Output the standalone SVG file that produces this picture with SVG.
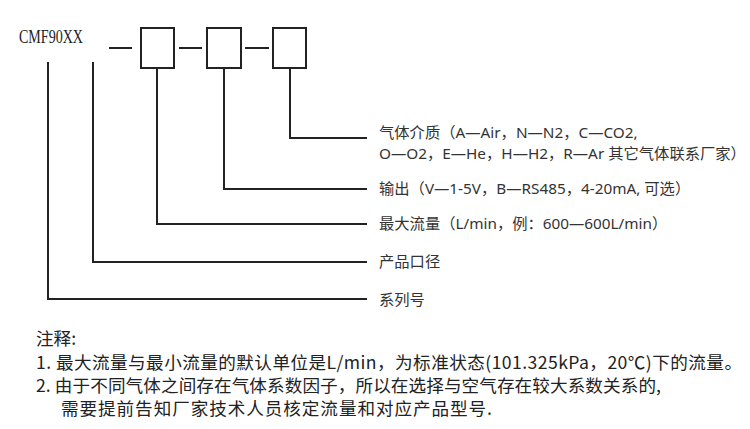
<svg xmlns="http://www.w3.org/2000/svg" width="750" height="429" viewBox="0 0 750 429">
<style>
.ln{fill:none;stroke:#222;stroke-width:2}
.bx{fill:#fff;stroke:#222;stroke-width:2}
.lb{font-family:"Noto Sans","Noto Sans CJK SC",sans-serif;font-size:15.3px;fill:#333}
.nt{font-family:"Noto Sans CJK SC",sans-serif;font-size:17.6px;fill:#222}
.md{font-family:"Liberation Serif",serif;font-size:18px;fill:#222}
</style>
<rect width="750" height="429" fill="#fff"/>
<g id="model"><text class="md" x="19" y="43" textLength="64" lengthAdjust="spacingAndGlyphs">CMF90XX</text></g>
<g id="connectors">
<path class="ln" d="M109 48H132M179 48H202M245 48H269"/>
<path class="ln" d="M48 62V299H367"/>
<path class="ln" d="M93 62V262H367"/>
<path class="ln" d="M157 68V224H367"/>
<path class="ln" d="M224 68V189H367"/>
<path class="ln" d="M290 68V138H367"/>
</g>
<g id="box1"><rect class="bx" x="141" y="28" width="33" height="40"/></g>
<g id="box2"><rect class="bx" x="207" y="28" width="34" height="40"/></g>
<g id="box3"><rect class="bx" x="273" y="28" width="33" height="40"/></g>
<g id="gas"><text class="lb" x="379" y="138">气体介质（A—Air，N—N2，C—CO2,</text><text class="lb" x="379" y="159">O—O2，E—He，H—H2，R—Ar 其它气体联系厂家）</text></g>
<g id="output"><text class="lb" x="379" y="194">输出（V—1-5V，B—RS485，4-20mA, 可选）</text></g>
<g id="maxflow"><text class="lb" x="379" y="229">最大流量（L/min，例：600—600L/min）</text></g>
<g id="caliber"><text class="lb" x="379" y="267">产品口径</text></g>
<g id="series"><text class="lb" x="379" y="305">系列号</text></g>
<g id="notes">
<text class="nt" x="36" y="345">注释:</text>
<text class="nt" x="36" y="369" textLength="706" lengthAdjust="spacing">1. 最大流量与最小流量的默认单位是L/min，为标准状态(101.325kPa，20℃)下的流量。</text>
<text class="nt" x="36" y="392" textLength="625" lengthAdjust="spacing">2. 由于不同气体之间存在气体系数因子，所以在选择与空气存在较大系数关系的,</text>
<text class="nt" x="61" y="415" textLength="431" lengthAdjust="spacing">需要提前告知厂家技术人员核定流量和对应产品型号.</text>
</g>
</svg>
